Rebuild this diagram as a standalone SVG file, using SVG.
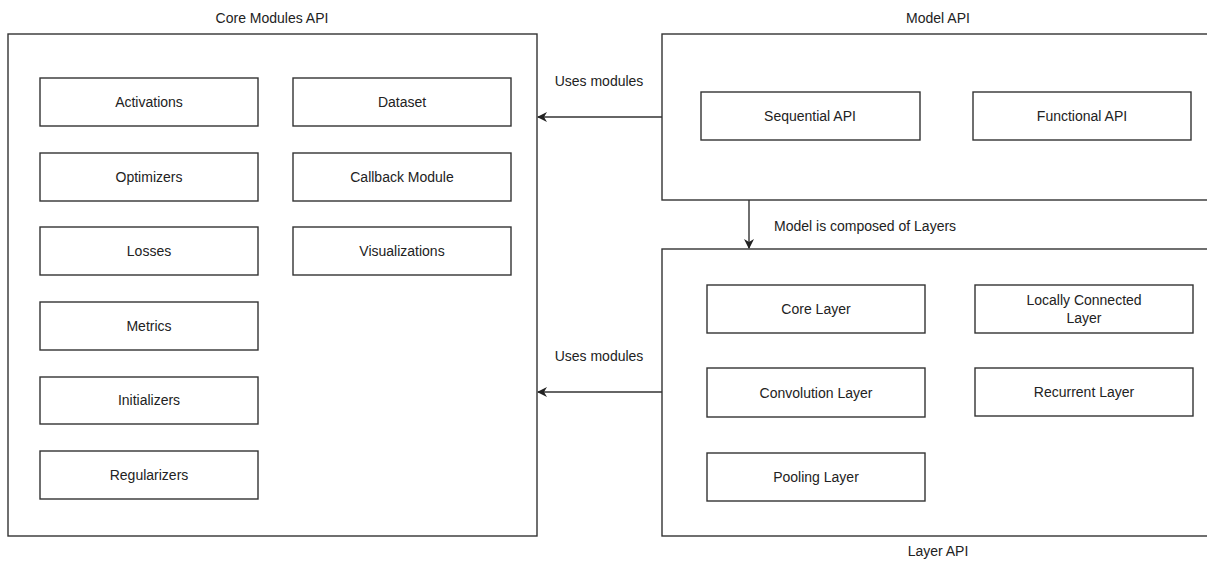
<svg xmlns="http://www.w3.org/2000/svg" width="1207" height="561" viewBox="0 0 1207 561">
<style>
.c{fill:#fff;stroke:#333;stroke-width:1.4}
.b{fill:#fff;stroke:#333;stroke-width:1.4}
text{font-family:"Liberation Sans",Arial,sans-serif;font-size:14px;fill:#222;text-anchor:middle;dominant-baseline:central}
.e{fill:none;stroke:#333;stroke-width:1.4}
.l{text-anchor:start}
</style>
<defs>
<marker id="ah" viewBox="0 0 10 10" refX="9" refY="5" markerWidth="10" markerHeight="10" markerUnits="userSpaceOnUse" orient="auto">
<path d="M0,0 L10,5 L0,10 L3,5 Z" fill="#222"/>
</marker>
</defs>
<rect width="1207" height="561" fill="#fff"/>
<g id="core-modules-api">
<rect class="c" x="8" y="34" width="529" height="502"/>
<text x="272" y="18">Core Modules API</text>
</g>
<g id="activations"><rect class="b" x="40" y="78" width="218" height="48"/><text x="149" y="102">Activations</text></g>
<g id="optimizers"><rect class="b" x="40" y="153" width="218" height="48"/><text x="149" y="177">Optimizers</text></g>
<g id="losses"><rect class="b" x="40" y="227" width="218" height="48"/><text x="149" y="251">Losses</text></g>
<g id="metrics"><rect class="b" x="40" y="302" width="218" height="48"/><text x="149" y="326">Metrics</text></g>
<g id="initializers"><rect class="b" x="40" y="377" width="218" height="47"/><text x="149" y="400">Initializers</text></g>
<g id="regularizers"><rect class="b" x="40" y="451" width="218" height="48"/><text x="149" y="475">Regularizers</text></g>
<g id="dataset"><rect class="b" x="293" y="78" width="218" height="48"/><text x="402" y="102">Dataset</text></g>
<g id="callback-module"><rect class="b" x="293" y="153" width="218" height="48"/><text x="402" y="177">Callback Module</text></g>
<g id="visualizations"><rect class="b" x="293" y="227" width="218" height="48"/><text x="402" y="251">Visualizations</text></g>

<g id="model-api">
<rect class="c" x="662" y="34" width="552" height="166"/>
<text x="938" y="18">Model API</text>
</g>
<g id="sequential-api"><rect class="b" x="701" y="92" width="219" height="48"/><text x="810" y="116">Sequential API</text></g>
<g id="functional-api"><rect class="b" x="973" y="92" width="218" height="48"/><text x="1082" y="116">Functional API</text></g>

<g id="layer-api">
<rect class="c" x="662" y="249" width="552" height="287"/>
<text x="938" y="551">Layer API</text>
</g>
<g id="core-layer"><rect class="b" x="707" y="285" width="218" height="48"/><text x="816" y="309">Core Layer</text></g>
<g id="locally-connected-layer"><rect class="b" x="975" y="285" width="218" height="48"/><text x="1084" y="300">Locally Connected</text><text x="1084" y="318">Layer</text></g>
<g id="convolution-layer"><rect class="b" x="707" y="368" width="218" height="49"/><text x="816" y="393">Convolution Layer</text></g>
<g id="recurrent-layer"><rect class="b" x="975" y="368" width="218" height="48"/><text x="1084" y="392">Recurrent Layer</text></g>
<g id="pooling-layer"><rect class="b" x="707" y="453" width="218" height="48"/><text x="816" y="477">Pooling Layer</text></g>

<g id="connectors">
<path class="e" d="M662,117 L538,117" marker-end="url(#ah)"/>
<text x="599" y="81">Uses modules</text>
<path class="e" d="M749,200 L749,248" marker-end="url(#ah)"/>
<text class="l" x="774" y="226">Model is composed of Layers</text>
<path class="e" d="M662,392 L538,392" marker-end="url(#ah)"/>
<text x="599" y="356">Uses modules</text>
</g>
</svg>
